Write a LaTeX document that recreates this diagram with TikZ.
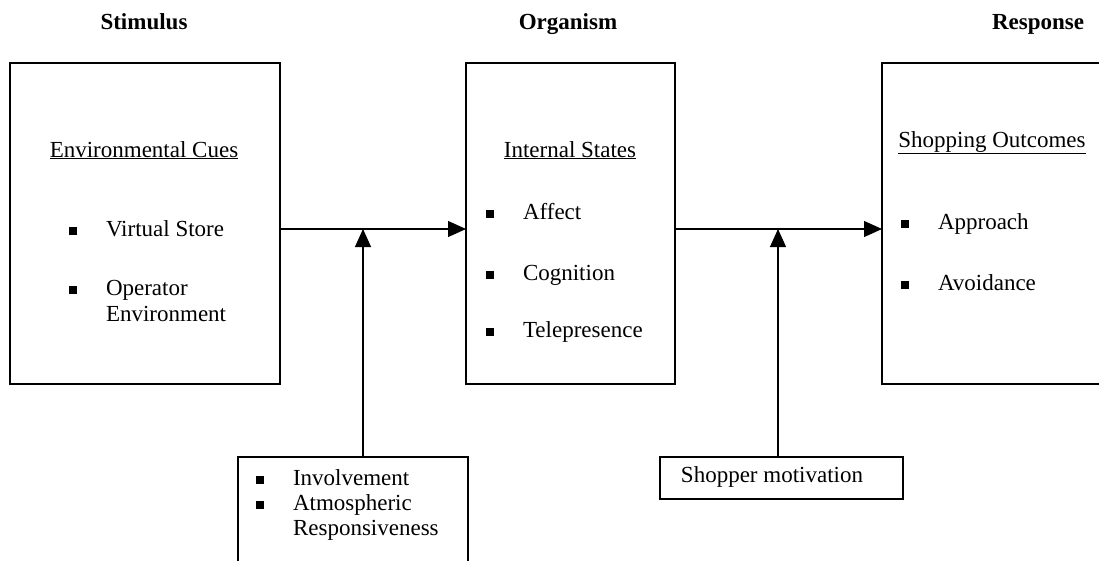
\documentclass[tikz,border=0pt]{standalone}
\usepackage{fontspec}
\setmainfont{Liberation Serif}
\usetikzlibrary{arrows.meta}
\newcommand{\bul}{\makebox[37pt][l]{\rule[1.5pt]{8pt}{8pt}}}
\begin{document}
\begin{tikzpicture}[x=1pt,y=-1pt,
  every node/.style={font=\fontsize{23}{27}\selectfont, inner sep=0pt, outer sep=0pt},
  title/.style={font=\fontsize{23}{27}\selectfont\bfseries, anchor=base},
  boxline/.style={draw=black, line width=1.2pt},
  item/.style={anchor=base west},
  conn/.style={draw=black, line width=1.1pt, -{Triangle[length=18pt,width=16pt]}}]
\useasboundingbox (0,0) rectangle (1099,560);
% titles
\node[title] (t1) at (144,29) {Stimulus};
\node[title] (t2) at (568,29) {Organism};
\node[title] (t3) at (1038,29) {Response};
% main boxes
\node[boxline, minimum width=270pt, minimum height=321pt, anchor=north west] (b1) at (10,63) {};
\node[boxline, minimum width=209pt, minimum height=321pt, anchor=north west] (b2) at (466,63) {};
\node[boxline, minimum width=240pt, minimum height=321pt, anchor=north west] (b3) at (882,63) {};
% bottom boxes
\node[boxline, minimum width=230pt, minimum height=130pt, anchor=north west] (m1) at (238,457) {};
\node[boxline, minimum width=243pt, minimum height=42pt, anchor=north west] (m2) at (660,457) {};
% box 1 text
\node[anchor=base] (h1) at (144,157) {\underline{Environmental Cues}};
\node[item] (i11) at (69,236) {\bul Virtual Store};
\node[item] (i12) at (69,295) {\bul Operator};
\node[item] (i13) at (106,321) {Environment};
% box 2 text
\node[anchor=base] (h2) at (570,157) {\underline{Internal States}};
\node[item] (i21) at (486,219) {\bul Affect};
\node[item] (i22) at (486,280) {\bul Cognition};
\node[item] (i23) at (486,337) {\bul Telepresence};
% box 3 text
\node[anchor=base] (h3) at (992,147) {\underline{Shopping Outcomes}};
\node[item] (i31) at (901,229) {\bul Approach};
\node[item] (i32) at (901,290) {\bul Avoidance};
% bottom box 1 text
\node[item] (i41) at (256,485) {\bul Involvement};
\node[item] (i42) at (256,510) {\bul Atmospheric};
\node[item] (i43) at (293,535) {Responsiveness};
% bottom box 2 text
\node[anchor=base] (s2) at (772,482) {Shopper motivation};
% connectors
\coordinate (j1) at (363,229);
\coordinate (j2) at (778,229);
\draw[conn] (b1.east |- j1) -- (b2.west |- j1);
\draw[conn] (b2.east |- j2) -- (b3.west |- j2);
\draw[conn] (m1.north -| j1) -- (j1);
\draw[conn] (m2.north -| j2) -- (j2);
\end{tikzpicture}
\end{document}
